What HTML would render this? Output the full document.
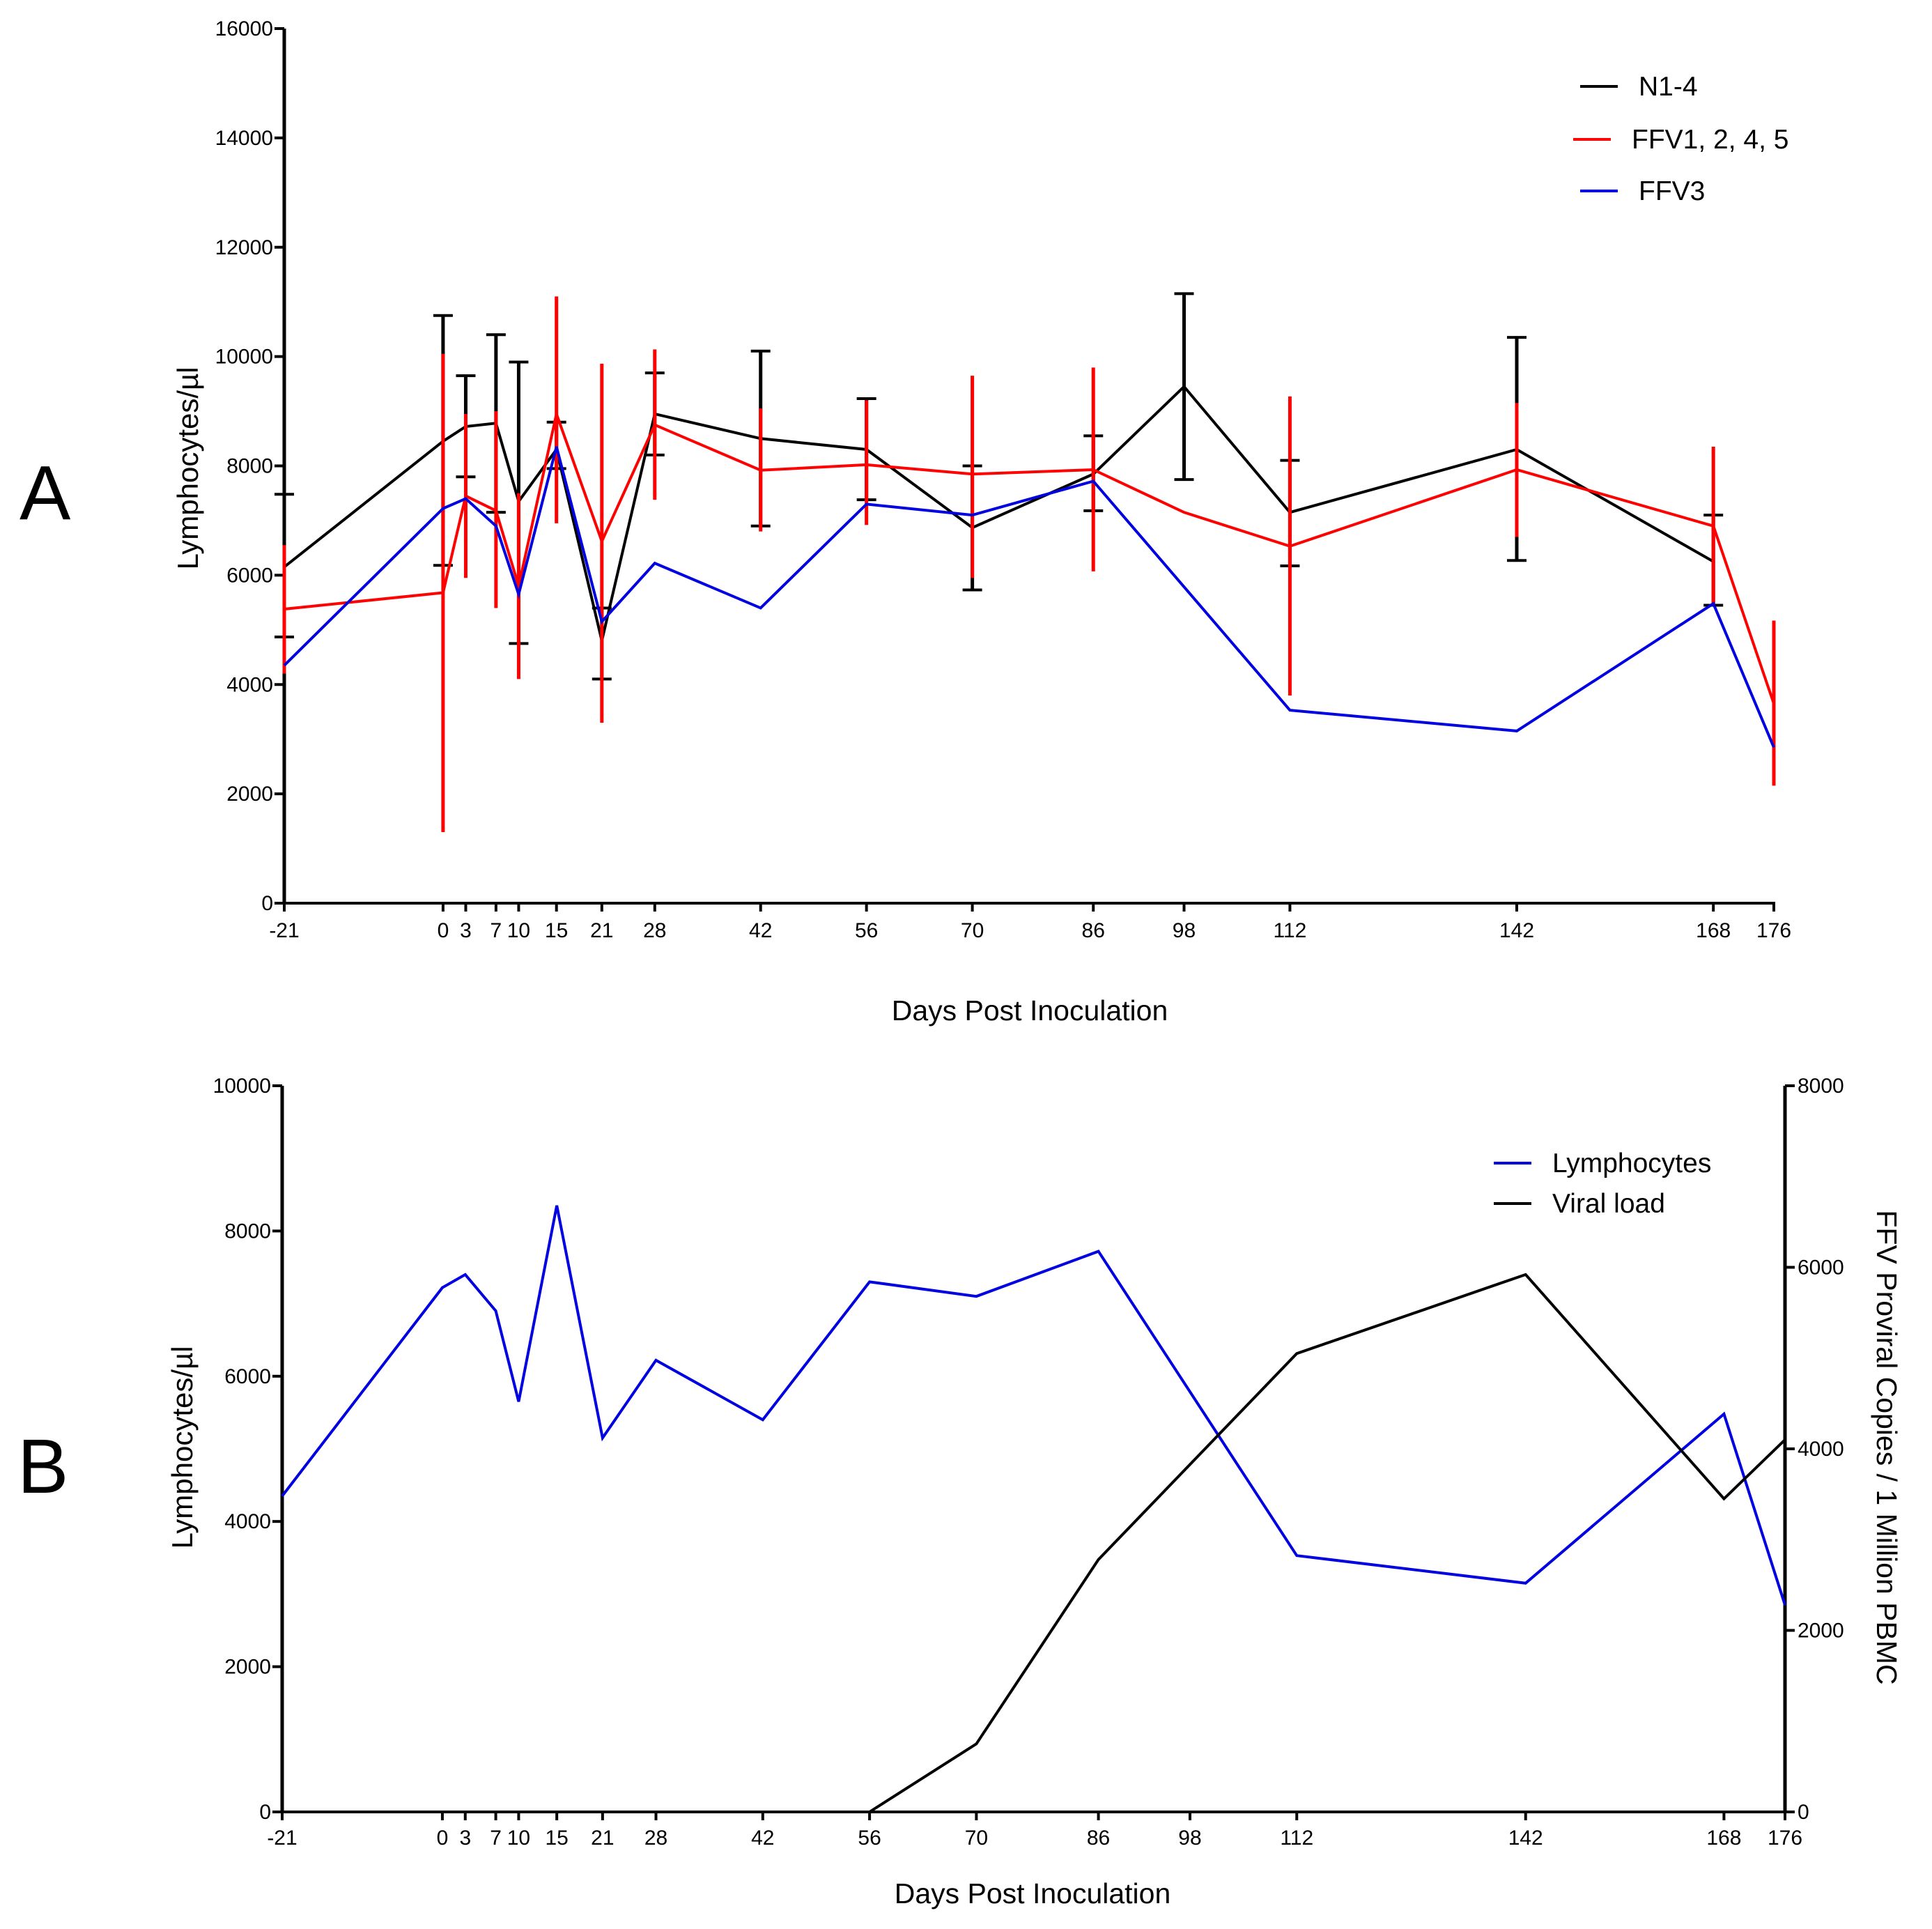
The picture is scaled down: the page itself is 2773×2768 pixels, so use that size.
<!DOCTYPE html>
<html><head><meta charset="utf-8"><style>
html,body{margin:0;padding:0;background:#fff}
svg{display:block;font-family:"Liberation Sans",Arial,sans-serif}
</style></head><body>
<svg id="c" width="2773" height="2768" viewBox="0 0 2773 2768" xmlns="http://www.w3.org/2000/svg"></svg>
<script>
// ---- data ----
const xTicks=[-21,0,3,7,10,15,21,28,42,56,70,86,98,112,142,168,176];
const daysN=[-21,0,3,7,10,15,21,28,42,56,70,86,98,112,142,168];
const valN=[6150,8450,8720,8780,7350,8300,4800,8950,8500,8300,6870,7850,9450,7150,8300,6250];
const loN=[4870,6180,7800,7150,4750,7950,4100,8200,6900,7380,5730,7180,7750,6170,6270,5450];
const hiN=[7480,10750,9650,10400,9900,8800,5400,9700,10100,9230,8000,8550,11150,8100,10350,7100];
const daysR=[-21,0,3,7,10,15,21,28,42,56,70,86,98,112,142,168,176];
const valR=[5380,5680,7450,7180,5800,8950,6620,8750,7920,8020,7850,7930,7150,6530,7930,6900,3650];
const loR=[4200,1300,5950,5400,4100,6950,3300,7380,6800,6920,5950,6070,7150,3800,6700,5450,2150];
const hiR=[6550,10050,8950,9000,7500,11100,9870,10130,9050,9200,9650,9800,7150,9270,9150,8350,5170];
const daysB=[-21,0,3,7,10,15,21,28,42,56,70,86,112,142,168,176];
const valB=[4350,7220,7400,6900,5650,8350,5150,6220,5400,7300,7100,7720,3530,3150,5480,2850];
const daysV=[56,70,86,112,142,168,176];
const valV=[0,750,2780,5050,5920,3450,4100];
const yTicksA=[0,2000,4000,6000,8000,10000,12000,14000,16000];
const yTicksB=[0,2000,4000,6000,8000,10000];
const yTicksR=[0,2000,4000,6000,8000];

const S=document.getElementById('c');const NS='http://www.w3.org/2000/svg';
function mk(t,a,txt){const e=document.createElementNS(NS,t);for(const k in a)e.setAttribute(k,a[k]);if(txt!==undefined)e.textContent=txt;S.appendChild(e);return e;}
function lin(d0,d1,r0,r1){return v=>r0+(v-d0)/(d1-d0)*(r1-r0);}

const xA=lin(-21,176,408,2546), yA=lin(0,16000,1296,41);
const xB=lin(-21,176,405,2562), yB=lin(0,10000,2600,1558), yR=lin(0,8000,2600,1558);

function axisL(x,y0,y1,ticks,yf,name){
  let e=mk('line',{x1:x,y1:y0+2,x2:x,y2:y1,stroke:'#000','stroke-width':5});
  
  ticks.forEach(t=>{const y=yf(t);
    let l=mk('line',{x1:x-14,y1:y,x2:x,y2:y,stroke:'#000','stroke-width':4});
    
    let tx=mk('text',{x:x-16,y:y+10,'font-size':30,'text-anchor':'end'},t);
    });
}
function axisX(y,xf,x0,x1,name,ly){
  let e=mk('line',{x1:x0,y1:y,x2:x1,y2:y,stroke:'#000','stroke-width':4});
  
  xTicks.forEach(t=>{const x=xf(t);
    let l=mk('line',{x1:x,y1:y,x2:x,y2:y+12,stroke:'#000','stroke-width':4});
    
    let tx=mk('text',{x:x,y:ly,'font-size':30,'text-anchor':'middle'},t);
    });
}
function series(days,vals,xf,yf,color,name,w){
  const p=days.map((d,i)=>xf(d)+','+yf(vals[i])).join(' ');
  let e=mk('polyline',{points:p,fill:'none',stroke:color,'stroke-width':w||4,'stroke-linejoin':'miter'});
  
}
function errs(days,lo,hi,xf,yf,color,name,cap){
  days.forEach((d,i)=>{if(hi[i]===lo[i])return;const x=xf(d);
    let e=mk('line',{x1:x,y1:yf(lo[i]),x2:x,y2:yf(hi[i]),stroke:color,'stroke-width':5});
    
    if(cap){[lo[i],hi[i]].forEach(v=>{let c=mk('line',{x1:x-14,y1:yf(v),x2:x+14,y2:yf(v),stroke:color,'stroke-width':4});
      });}
  });
}

axisL(408,1296,41,yTicksA,yA,'a');
axisX(1296,xA,406,2548,'a',1345);
errs(daysN,loN,hiN,xA,yA,'#000','a-n14-error-bar',true);
series(daysN,valN,xA,yA,'#000','a-n14-line');
errs(daysR,loR,hiR,xA,yA,'#f00','a-ffv1245-error-bar',false);
series(daysR,valR,xA,yA,'#f00','a-ffv1245-line');
series(daysB,valB,xA,yA,'#0000e0','a-ffv3-line');

axisL(405,2600,1558,yTicksB,yB,'b');
axisX(2600,xB,403,2562,'b',2647);
let ra=mk('line',{x1:2562,y1:2602,x2:2562,y2:1558,stroke:'#000','stroke-width':5});

yTicksR.forEach(t=>{const y=yR(t);
  let l=mk('line',{x1:2562,y1:y,x2:2576,y2:y,stroke:'#000','stroke-width':4});
  
  let tx=mk('text',{x:2580,y:y+10,'font-size':30},t);
  });
series(daysB,valB,xB,yB,'#0000e0','b-lymphocytes-line');
series(daysV,valV,xB,yR,'#000','b-viral-load-line');
</script>
<svg style="position:absolute;left:0;top:0" width="2773" height="2768" xmlns="http://www.w3.org/2000/svg" font-family="Liberation Sans, Arial, sans-serif">
<text x="28" y="745" font-size="110">A</text>
<text x="25" y="2142" font-size="110">B</text>
<text x="1478" y="1464" font-size="41" text-anchor="middle">Days Post Inoculation</text>
<text x="1482" y="2731" font-size="41" text-anchor="middle">Days Post Inoculation</text>
<text transform="translate(284,672) rotate(-90)" font-size="42" text-anchor="middle">Lymphocytes/µl</text>
<text transform="translate(276,2077) rotate(-90)" font-size="42" text-anchor="middle">Lymphocytes/µl</text>
<text transform="translate(2694,2077) rotate(90)" font-size="41" text-anchor="middle">FFV Proviral Copies / 1 Million PBMC</text>
<g font-size="39">
<line x1="2268" y1="124" x2="2322" y2="124" stroke="#000" stroke-width="4"/><text x="2352" y="137">N1-4</text>
<line x1="2258" y1="200" x2="2312" y2="200" stroke="#f00" stroke-width="4"/><text x="2342" y="213">FFV1, 2, 4, 5</text>
<line x1="2268" y1="274" x2="2322" y2="274" stroke="#0000e0" stroke-width="4"/><text x="2352" y="287">FFV3</text>
</g>
<g font-size="39">
<line x1="2144" y1="1669" x2="2198" y2="1669" stroke="#0000e0" stroke-width="4"/><text x="2228" y="1682">Lymphocytes</text>
<line x1="2144" y1="1727" x2="2198" y2="1727" stroke="#000" stroke-width="4"/><text x="2228" y="1740">Viral load</text>
</g>
</svg>
</body></html>
